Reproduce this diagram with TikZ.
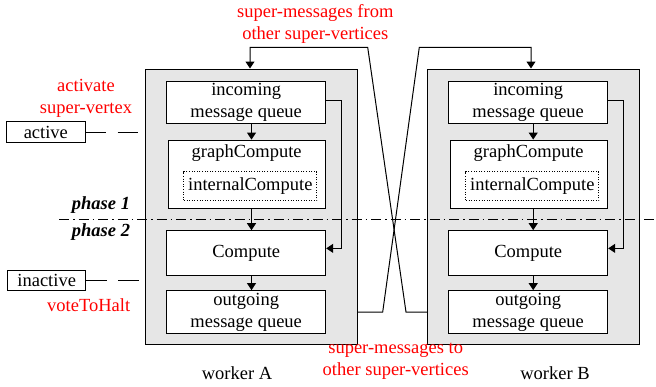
\documentclass[tikz,border=0pt]{standalone}
\usepackage{fontspec}
\setmainfont{Liberation Serif}
\usetikzlibrary{arrows.meta}
\definecolor{boxgray}{RGB}{230,230,230}
\tikzset{
  every node/.style={font=\fontsize{18.5}{22}\selectfont, inner sep=0pt, align=center},
  worker/.style={draw, fill=boxgray, line width=1pt},
  inbox/.style={draw, fill=white, line width=1pt},
  dotbox/.style={draw, fill=white, line width=1pt, dash pattern=on 1pt off 1.6pt},
  statebox/.style={draw, fill=white, line width=1pt},
  redtxt/.style={text=red},
  conn/.style={line width=1pt},
  arr/.style={line width=1pt, -{Triangle[length=7pt,width=9pt]}},
  dashconn/.style={line width=1pt, dash pattern=on 20.5pt off 11.5pt},
  phaseline/.style={line width=1pt, dash pattern=on 10pt off 4pt on 1.5pt off 4pt},
  phasetxt/.style={font=\fontsize{18.5}{22}\selectfont\bfseries\itshape}
}
\begin{document}
\begin{tikzpicture}[x=1pt,y=-1pt]
\useasboundingbox (0,0) rectangle (656,386);
% workers
\node[worker, minimum width=212pt, minimum height=275pt] (wA) at (251.7,206.5) {};
\node[worker, minimum width=212pt, minimum height=275pt] (wB) at (533.5,206.5) {};
% worker A inner
\node[inbox, minimum width=159pt, minimum height=42.7pt] (inA) at (246.2,102.35) {incoming\\message queue};
\node[inbox, minimum width=157.3pt, minimum height=68.3pt] (gcA) at (246.7,174.2) {};
\node[below=5pt] (gcAt) at (gcA.north) {graphCompute};
\node[dotbox, minimum width=132.7pt, minimum height=29.3pt] (icA) at (250.3,186.3) {internalCompute};
\node[inbox, minimum width=159pt, minimum height=44.3pt] (cA) at (246.2,252.85) {Compute};
\node[inbox, minimum width=159pt, minimum height=42.7pt] (oA) at (246.2,312) {outgoing\\message queue};
% worker B inner
\node[inbox, minimum width=159pt, minimum height=42.7pt] (inB) at (528.2,102.35) {incoming\\message queue};
\node[inbox, minimum width=157.3pt, minimum height=68.3pt] (gcB) at (528.7,174.2) {};
\node[below=5pt] (gcBt) at (gcB.north) {graphCompute};
\node[dotbox, minimum width=132.7pt, minimum height=29.3pt] (icB) at (532.3,186.3) {internalCompute};
\node[inbox, minimum width=159pt, minimum height=44.3pt] (cB) at (528.2,252.85) {Compute};
\node[inbox, minimum width=159pt, minimum height=42.7pt] (oB) at (528.2,312) {outgoing\\message queue};
% arrow columns
\coordinate (xA) at (251.5,0);
\coordinate (xB) at (533.2,0);
\draw[arr] (inA.south -| xA) -- (gcA.north -| xA);
\draw[arr] (gcA.south -| xA) -- (cA.north -| xA);
\draw[arr] (cA.south -| xA) -- (oA.north -| xA);
\draw[arr] (inB.south -| xB) -- (gcB.north -| xB);
\draw[arr] (gcB.south -| xB) -- (cB.north -| xB);
\draw[arr] (cB.south -| xB) -- (oB.north -| xB);
% side loops
\draw[arr] ([yshift=2.35pt]inA.east) -- ++(15.5,0) |- ([yshift=4.5pt]cA.east);
\draw[arr] ([yshift=2.35pt]inB.east) -- ++(15.5,0) |- ([yshift=4.5pt]cB.east);
% cross connections
\coordinate (topA) at (250,0);
\coordinate (topB) at (531,0);
\draw[arr] (wA.east |- oA.east) -- (382.7,312) -- (419.3,47.3) -| (wB.north -| topB);
\draw[arr] (wB.west |- oB.west) -- (406,312) -- (367.7,47.3) -| (wA.north -| topA);
% states
\node[statebox, minimum width=78.3pt, minimum height=21pt] (act) at (45.85,132.2) {active};
\node[statebox, minimum width=78pt, minimum height=20.7pt] (inact) at (46.7,280.35) {inactive};
\draw[dashconn] (act.east) -- (act.east -| wA.west);
\draw[dashconn] (inact.east) -- (inact.east -| wA.west);
% phase line
\coordinate (pl) at (59,219.3);
\coordinate (pr) at (656,219.3);
\draw[phaseline] (pl) -- (pr);
\node[phasetxt] (p1) at (101,205.5) {phase 1};
\node[phasetxt] (p2) at (101,232) {phase 2};
% labels
\node[redtxt] (lact) at (86,98.5) {activate\\super-vertex};
\node[redtxt] (lvote) at (88.7,305) {voteToHalt};
\node[redtxt] (ltop) at (315.3,23.5) {super-messages from\\other super-vertices};
\node[redtxt] (lbot) at (395.7,361.5) {super-messages to\\other super-vertices};
\node (lwA) at (237,373) {worker A};
\node (lwB) at (555,373) {worker B};
\end{tikzpicture}
\end{document}
